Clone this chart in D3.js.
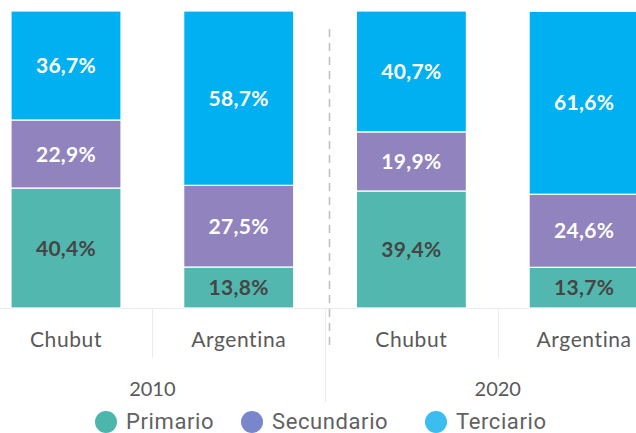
<!DOCTYPE html>
<html><head><meta charset="utf-8">
<script src="https://cdn.jsdelivr.net/npm/d3@7"></script>
<style>html,body{margin:0;padding:0;background:#fff;overflow:hidden}</style>
</head><body>
<svg id="chart" width="636" height="433"></svg>
<script>
const categories = ["Chubut", "Argentina", "Chubut", "Argentina"];
const years = ["2010", "2020"];
const seriesNames = ["Primario", "Secundario", "Terciario"];
const primario = [40.4, 13.8, 39.4, 13.7];
const secundario = [22.9, 27.5, 19.9, 24.6];
const terciario = [36.7, 58.7, 40.7, 61.6];

const barColors = ["#52B8AF", "#9183BD", "#00B0F0"];
const legendColors = ["#4DB6AC", "#7986CB", "#3BBDED"];
const labelColors = ["#454545", "#FFFFFF", "#FFFFFF"];

const svg = d3.select("#chart");
const W = 636, H = 433;
const ids = categories.map((c, i) => i);
const x = d3.scaleBand().domain(ids).range([-20.35, 670.45]).paddingInner(0.363).paddingOuter(0.1815);
const y = d3.scaleLinear().domain([0, 100]).range([308, 11]);

const rows = ids.map(i => ({i, Primario: primario[i], Secundario: secundario[i], Terciario: terciario[i]}));
const stack = d3.stack().keys(seriesNames)(rows);

// axis baseline
svg.append("line").attr("x1", 0).attr("x2", W).attr("y1", 308.5).attr("y2", 308.5)
  .attr("stroke", "#EBEBEB").attr("stroke-width", 1);

// category separators
const step = x.step();
const start0 = -20.35;
[1, 3].forEach(k => {
  const xx = Math.round(start0 + step * k) + 0.5;
  svg.append("line").attr("x1", xx).attr("x2", xx).attr("y1", 309).attr("y2", 358)
    .attr("stroke", "#EBEBEB").attr("stroke-width", 1);
});
{
  const xx = Math.round(start0 + step * 2) + 0.5;
  svg.append("line").attr("x1", xx).attr("x2", xx).attr("y1", 309).attr("y2", 402)
    .attr("stroke", "#EBEBEB").attr("stroke-width", 1);
  // dashed divider
  svg.append("line").attr("x1", xx + 4).attr("x2", xx + 4).attr("y1", 29).attr("y2", 345)
    .attr("stroke", "#BDBDBD").attr("stroke-width", 1.5).attr("stroke-dasharray", "8,6");
}

// bars
const layers = svg.selectAll("g.layer").data(stack).enter().append("g").attr("class", "layer");
layers.each(function(layer, li) {
  const g = d3.select(this);
  g.selectAll("rect").data(layer).enter().append("rect")
    .attr("x", d => x(d.data.i))
    .attr("width", x.bandwidth())
    .attr("y", d => y(d[1]))
    .attr("height", d => y(d[0]) - y(d[1]))
    .attr("fill", barColors[li])
    .attr("stroke", "#fff").attr("stroke-width", 1.2);
  g.selectAll("text").data(layer).enter().append("text")
    .attr("x", d => x(d.data.i) + x.bandwidth() / 2)
    .attr("y", d => (y(d[0]) + y(d[1])) / 2)
    .attr("dy", "0.36em")
    .attr("text-anchor", "middle")
    .attr("font-family", "Lato, sans-serif").attr("font-weight", "bold").attr("font-size", "21px")
    .attr("letter-spacing", "0.3px")
    .attr("fill", labelColors[li])
    .text(d => (d[1] - d[0]).toFixed(1).replace(".", ",") + "%");
});

// category labels
svg.selectAll("text.cat").data(ids).enter().append("text").attr("class", "cat")
  .attr("x", i => x(i) + x.bandwidth() / 2).attr("y", 347)
  .attr("text-anchor", "middle")
  .attr("font-family", "Lato, sans-serif").attr("font-size", "21px").attr("fill", "#595959")
  .attr("letter-spacing", "0.6px")
  .text(i => categories[i]);

// year labels
years.forEach((yr, k) => {
  const cx = (x(2 * k) + x(2 * k + 1) + x.bandwidth()) / 2;
  svg.append("text").attr("x", cx).attr("y", 396).attr("text-anchor", "middle")
    .attr("font-family", "Lato, sans-serif").attr("font-size", "20px").attr("fill", "#595959")
    .text(yr);
});

// legend
const legendX = [106, 252, 436];
seriesNames.forEach((s, k) => {
  svg.append("circle").attr("cx", legendX[k]).attr("cy", 422).attr("r", 11).attr("fill", legendColors[k]);
  svg.append("text").attr("x", legendX[k] + 20).attr("y", 429)
    .attr("font-family", "Roboto, sans-serif").attr("font-size", "22px").attr("fill", "#616161")
    .attr("letter-spacing", "0.6px")
    .text(s);
});
</script>
</body></html>
